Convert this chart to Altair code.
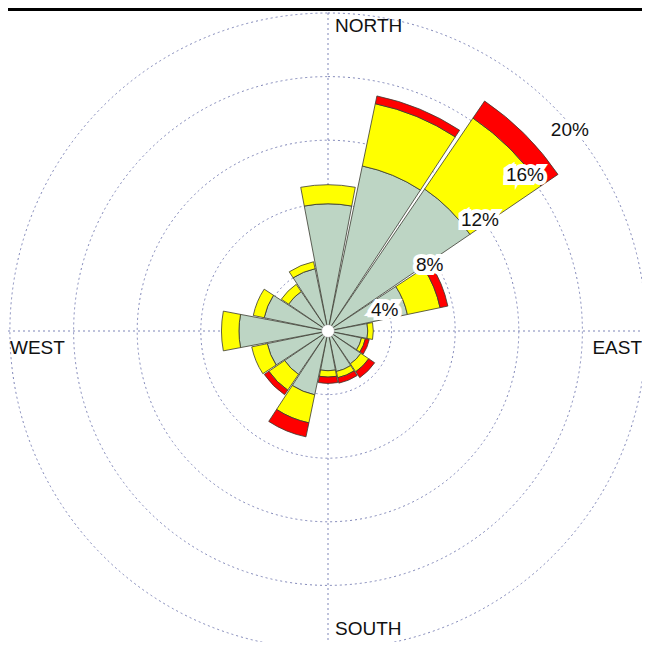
import math
import altair as alt
import pandas as pd

# ---- data (percent frequency per direction) ----
directions = ["N", "NNE", "NE", "ENE", "E", "ESE", "SE", "SSE",
              "S", "SSW", "SW", "WSW", "W", "WNW", "NW", "NNW"]
low_class = [8.0, 10.6, 10.8, 5.1, 2.5, 2.15, 2.5, 2.6,
             2.5, 4.1, 3.3, 3.9, 5.6, 4.1, 3.0, 4.0]
mid_class = [1.2, 4.0, 5.4, 2.1, 0.35, 0.25, 0.6, 0.4,
             0.4, 1.8, 1.2, 1.0, 1.1, 0.7, 0.55, 0.45]
high_class = [0.0, 0.5, 1.3, 0.5, 0.0, 0.25, 0.45, 0.35,
              0.4, 0.9, 0.35, 0.0, 0.0, 0.0, 0.0, 0.0]
ring_values = [4, 8, 12, 16, 20]
ring_labels = ["4%", "8%", "12%", "16%", "20%"]

# ---- layout constants ----
W, H = 634, 634
CX, CY = 320, 323
R_MAX = 318
HALF = 10.75
FONT = "Liberation Sans"

classes = ["low", "mid", "high"]
colors = ["#bdd5c4", "#ffff00", "#ff0000"]

rows = []
for i, d in enumerate(directions):
    c = i * 22.5
    base = 0.0
    for cls, vals in zip(classes, [low_class, mid_class, high_class]):
        v = vals[i]
        if v > 0:
            rows.append({"dir": d, "cls": cls, "t0": c - HALF, "t1": c + HALF,
                         "r0": base, "r1": base + v})
        base += v
sectors = pd.DataFrame(rows)

theta_scale = alt.Scale(domain=[0, 360], range=[0, 2 * math.pi])
radius_scale = alt.Scale(type="linear", domain=[0, 20], range=[0, R_MAX], zero=True)

cx = alt.value(CX)
cy = alt.value(CY)

rings = pd.DataFrame({"t0": 0, "t1": 360, "r": ring_values})
ring_layer = alt.Chart(rings).mark_arc(
    fillOpacity=0, stroke="#7f86b8", strokeWidth=1, strokeDash=[2, 3]
).encode(
    x=cx, y=cy,
    theta=alt.Theta("t0:Q", scale=theta_scale, stack=False),
    theta2="t1:Q",
    radius=alt.Radius("r:Q", scale=radius_scale, stack=False),
)

axes_df = pd.DataFrame({"k": [0]})
vline = alt.Chart(axes_df).mark_rule(
    stroke="#7f86b8", strokeWidth=1, strokeDash=[2, 3]
).encode(x=alt.value(CX), y=alt.value(0), y2=alt.value(H))
hline = alt.Chart(axes_df).mark_rule(
    stroke="#7f86b8", strokeWidth=1, strokeDash=[2, 3]
).encode(y=alt.value(CY), x=alt.value(0), x2=alt.value(W))
topline = alt.Chart(axes_df).mark_rule(
    stroke="black", strokeWidth=4
).encode(y=alt.value(1), x=alt.value(0), x2=alt.value(W))

sector_layer = alt.Chart(sectors).mark_arc(
    stroke="#3a3a30", strokeWidth=0.8
).encode(
    x=cx, y=cy,
    theta=alt.Theta("t0:Q", scale=theta_scale, stack=False),
    theta2="t1:Q",
    radius=alt.Radius("r1:Q", scale=radius_scale, stack=False),
    radius2="r0:Q",
    color=alt.Color("cls:N", scale=alt.Scale(domain=classes, range=colors), legend=None),
)

hole = alt.Chart(pd.DataFrame({"t0": [0], "t1": [360], "r": [0.4]})).mark_arc(
    fill="white", stroke="#999999", strokeWidth=0.5
).encode(
    x=cx, y=cy,
    theta=alt.Theta("t0:Q", scale=theta_scale, stack=False),
    theta2="t1:Q",
    radius=alt.Radius("r:Q", scale=radius_scale, stack=False),
)

lab = pd.DataFrame({"t": 45, "r": ring_values, "txt": ring_labels})
lab_halo = alt.Chart(lab).mark_text(
    font=FONT, fontSize=19, align="left", baseline="middle", dx=-2, dy=24,
    fill="white", stroke="white", strokeWidth=8, strokeJoin="miter"
).encode(
    x=cx, y=cy,
    theta=alt.Theta("t:Q", scale=theta_scale, stack=False),
    radius=alt.Radius("r:Q", scale=radius_scale, stack=False),
    text="txt:N",
)
lab_text = alt.Chart(lab).mark_text(
    font=FONT, fontSize=19, align="left", baseline="middle", dx=-2, dy=24,
    fill="#111111"
).encode(
    x=cx, y=cy,
    theta=alt.Theta("t:Q", scale=theta_scale, stack=False),
    radius=alt.Radius("r:Q", scale=radius_scale, stack=False),
    text="txt:N",
)

n_text = alt.Chart(pd.DataFrame({"t": [0], "r": [19.2], "txt": ["NORTH"]})).mark_text(
    font=FONT, fontSize=19, align="left", baseline="middle", dx=7, fill="#111111"
).encode(
    x=cx, y=cy,
    theta=alt.Theta("t:Q", scale=theta_scale, stack=False),
    radius=alt.Radius("r:Q", scale=radius_scale, stack=False),
    text="txt:N",
)
s_text = alt.Chart(pd.DataFrame({"t": [180], "r": [19.15], "txt": ["SOUTH"]})).mark_text(
    font=FONT, fontSize=19, align="left", baseline="alphabetic", dx=7, fill="#111111"
).encode(
    x=cx, y=cy,
    theta=alt.Theta("t:Q", scale=theta_scale, stack=False),
    radius=alt.Radius("r:Q", scale=radius_scale, stack=False),
    text="txt:N",
)
w_text = alt.Chart(pd.DataFrame({"t": [270], "r": [20], "txt": ["WEST"]})).mark_text(
    font=FONT, fontSize=19, align="left", baseline="middle", dy=17, fill="#111111"
).encode(
    x=cx, y=cy,
    theta=alt.Theta("t:Q", scale=theta_scale, stack=False),
    radius=alt.Radius("r:Q", scale=radius_scale, stack=False),
    text="txt:N",
)
e_text = alt.Chart(pd.DataFrame({"t": [90], "r": [19.75], "txt": ["EAST"]})).mark_text(
    font=FONT, fontSize=19, align="right", baseline="middle", dy=17, fill="#111111"
).encode(
    x=cx, y=cy,
    theta=alt.Theta("t:Q", scale=theta_scale, stack=False),
    radius=alt.Radius("r:Q", scale=radius_scale, stack=False),
    text="txt:N",
)

chart = alt.layer(
    ring_layer, vline, hline, topline, sector_layer, hole,
    lab_halo, lab_text, n_text, s_text, w_text, e_text
).properties(
    width=W, height=H, padding=0,
    autosize=alt.AutoSizeParams(type="none"),
).configure_view(stroke=None)

chart.save("out.html", embed_options={"renderer": "svg", "actions": False})
